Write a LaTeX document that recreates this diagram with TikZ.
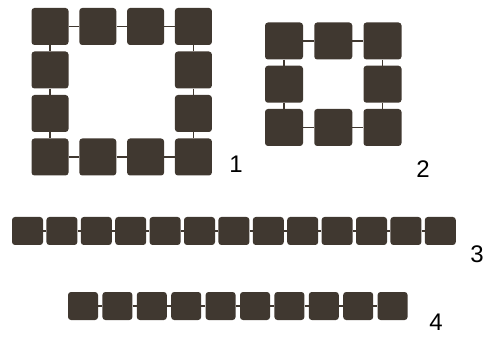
\documentclass[tikz,border=0pt]{standalone}
\usepackage{fontspec}
\setsansfont{Liberation Sans}
\usetikzlibrary{positioning}
\definecolor{tilebrown}{RGB}{64,56,48}

\begin{document}
\begin{tikzpicture}[x=1pt, y=-1pt,
    tile/.style={fill=tilebrown, rounded corners=3pt, inner sep=0pt,
      minimum width=37pt, minimum height=37pt},
    link/.style={draw=tilebrown, line width=1.5pt},
    num/.style={font=\sffamily\fontsize{24}{24}\selectfont, text=black}]
   \useasboundingbox (0,0) rectangle (491,337);

   % ring of twelve tiles
   \foreach \c/\r in {0/0,1/0,2/0,3/0,0/1,3/1,0/2,3/2,0/3,1/3,2/3,3/3}
      \node[tile] (a\c\r) at (50+47.8*\c, 26.5+43.5*\r) {};
   \foreach \p/\q in {a00/a10,a10/a20,a20/a30,a03/a13,a13/a23,a23/a33,
                      a00/a01,a01/a02,a02/a03,a30/a31,a31/a32,a32/a33}
      \draw[link] (\p) -- (\q);
   \node[num] (n1) at (236,164) {1};

   % ring of eight tiles
   \foreach \c/\r in {0/0,1/0,2/0,0/1,2/1,0/2,1/2,2/2}
      \node[tile, minimum width=38pt] (b\c\r) at (284+49.25*\c, 41+43.25*\r) {};
   \foreach \p/\q in {b00/b10,b10/b20,b02/b12,b12/b22,
                      b00/b01,b01/b02,b20/b21,b21/b22}
      \draw[link] (\p) -- (\q);
   \node[num] (n2) at (423,169) {2};

   % row of thirteen tiles
   \foreach \i in {1,...,13}
      \node[tile, minimum width=31pt, minimum height=28pt] (c\i) at (27.5+34.4*\i-34.4, 231) {};
   \foreach \i [evaluate=\i as \j using int(\i+1)] in {1,...,12}
      \draw[link] (c\i) -- (c\j);
   \node[num] (n3) at (477,254) {3};

   % row of ten tiles
   \foreach \i in {1,...,10}
      \node[tile, minimum width=30pt, minimum height=28pt] (d\i) at (83+34.4*\i-34.4, 306) {};
   \foreach \i [evaluate=\i as \j using int(\i+1)] in {1,...,9}
      \draw[link] (d\i) -- (d\j);
   \node[num] (n4) at (436,322) {4};
\end{tikzpicture}
\end{document}
